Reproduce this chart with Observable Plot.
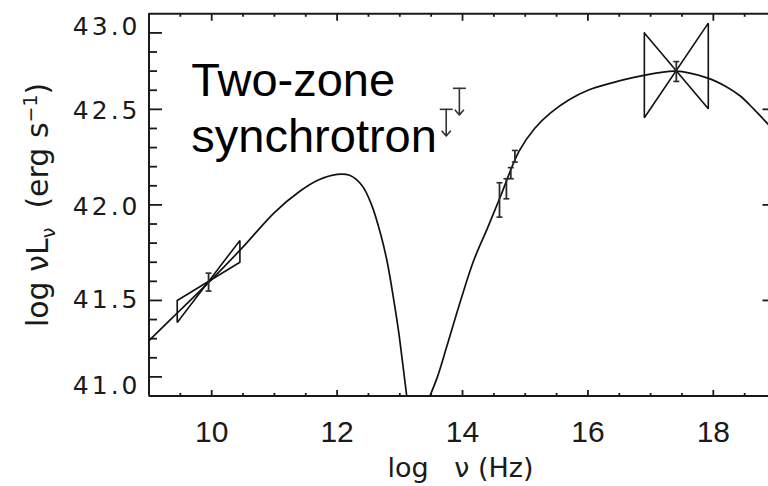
<!DOCTYPE html>
<html>
<head>
<meta charset="utf-8">
<script src="https://cdn.jsdelivr.net/npm/d3@7"></script>
<script src="https://cdn.jsdelivr.net/npm/@observablehq/plot@0.6"></script>
<style>
  html, body { margin: 0; padding: 0; background: #fff; overflow: hidden; }
</style>
</head>
<body>
<div id="chart"></div>
<script>
// ---------- data (log nu [Hz], log nuL_nu [erg/s]) ----------
const xDomain = [9, 18.88];
const yDomain = [41, 43];

// low-energy synchrotron component
const curve1X = [9.0, 9.5, 10.0, 10.5, 11.0, 11.4, 11.7, 12.0, 12.2, 12.4, 12.55, 12.7, 12.8, 12.9, 12.98, 13.05, 13.11];
const curve1Y = [41.29, 41.45, 41.61, 41.78, 41.96, 42.07, 42.13, 42.16, 42.155, 42.10, 42.00, 41.84, 41.70, 41.51, 41.34, 41.16, 41.0];

// high-energy synchrotron component
const curve2X = [13.48, 13.6, 13.75, 13.97, 14.18, 14.4, 14.6, 14.9, 15.15, 15.4, 15.7, 16.0, 16.4, 16.85, 17.4, 17.9, 18.2, 18.43, 18.65, 18.88];
const curve2Y = [41.0, 41.10, 41.26, 41.50, 41.71, 41.88, 42.04, 42.28, 42.40, 42.48, 42.55, 42.60, 42.64, 42.675, 42.70, 42.665, 42.62, 42.57, 42.50, 42.42];

// radio bowtie (closed outline)
const bowRadioX = [9.45, 10.45, 10.45, 9.45, 9.45];
const bowRadioY = [41.50, 41.70, 41.814, 41.385, 41.50];

// X-ray bowtie (closed outline)
const bowXrayX = [16.9, 17.92, 17.92, 16.9, 16.9];
const bowXrayY = [42.90, 42.503, 42.951, 42.456, 42.90];

// detections with error bars
const errX  = [9.95, 14.59, 14.70, 14.77, 14.835, 17.41];
const errLo = [41.549, 41.936, 42.032, 42.137, 42.224, 42.646];
const errHi = [41.643, 42.116, 42.137, 42.195, 42.285, 42.75];

// upper limits
const ulX = [13.74, 13.95];
const ulY = [42.50, 42.61];
const ulLen = 0.14;

// axis ticks and labels
const xMajorTicks = [10, 12, 14, 16, 18];
const xMinorTicks = [9.5, 10.5, 11, 11.5, 12.5, 13, 13.5, 14.5, 15, 15.5, 16.5, 17, 17.5, 18.5];
const yMajorTicks = [41.1, 41.5, 42.0, 42.5, 42.9];
const yMinorTicks = [41.2, 41.3, 41.4, 41.6, 41.7, 41.8, 41.9, 42.1, 42.2, 42.3, 42.4, 42.6, 42.7, 42.8];
const yRightTicks = [41.5, 42.0, 42.5];
const yLabelPos = [42.93, 42.49, 41.99, 41.5, 41.05];
const yTickLabels = ["43.0", "42.5", "42.0", "41.5", "41.0"];

// texts
const annotText = "Two-zone\nsynchrotron";
const annotX = 9.675;
const annotY = 42.276;
const xTitle = "log\u00A0\u00A0\u00A0\u03BD\u00A0(Hz)";
const yTitleParts = [
  {t: "log \u03BDL"},
  {t: "\u03BD", sub: true},
  {t: "\u00A0\u00A0(erg s"},
  {t: "\u22121", sup: true},
  {t: ")"}
];

// ---------- layout ----------
const W = 768, H = 486, mL = 148.5, mR = 0, mT = 13.3, mB = 90.5;
const [x0, x1] = xDomain, [y0, y1] = yDomain;
const kx = (W - mL - mR) / (x1 - x0);   // px per x unit
const ky = (H - mT - mB) / (y1 - y0);   // px per y unit
const ink = "#1a1a1a";

// ---------- build tables ----------
const curve1 = curve1X.map((x, i) => ({x, y: curve1Y[i]}));
const curve2 = curve2X.map((x, i) => ({x, y: curve2Y[i]}));
const bowRadio = bowRadioX.map((x, i) => ({x, y: bowRadioY[i]}));
const bowXray = bowXrayX.map((x, i) => ({x, y: bowXrayY[i]}));
const errs = errX.map((x, i) => ({x, lo: errLo[i], hi: errHi[i]}));
const uls = ulX.map((x, i) => ({x, y: ulY[i]}));

// inward tick marks as short links from the frame edges
const tickStyle = {stroke: ink, strokeWidth: 1.8};
const bottomTicks = (v, len) => Plot.link(v.map(d => ({a: d, b0: y0, b1: y0 + len / ky})), {x1: "a", x2: "a", y1: "b0", y2: "b1", ...tickStyle});
const topTicks = (v, len) => Plot.link(v.map(d => ({a: d, b0: y1, b1: y1 - len / ky})), {x1: "a", x2: "a", y1: "b0", y2: "b1", ...tickStyle});
const leftTicks = (v, len) => Plot.link(v.map(d => ({a: d, b0: x0, b1: x0 + len / kx})), {y1: "a", y2: "a", x1: "b0", x2: "b1", ...tickStyle});
const rightTicks = (v, len) => Plot.link(v.map(d => ({a: d, b0: x1 - len / kx, b1: x1})), {y1: "a", y2: "a", x1: "b0", x2: "b1", ...tickStyle});
const caps = (data, key, halfPx, style) => Plot.link(data, {x1: d => d.x - halfPx / kx, x2: d => d.x + halfPx / kx, y1: key, y2: key, ...style});

const errStyle = {stroke: "#2a2a2a", strokeWidth: 1.6};
const ulStyle = {stroke: "#333", strokeWidth: 1.6};

const svg = Plot.plot({
  width: W,
  height: H,
  marginLeft: mL,
  marginRight: mR,
  marginTop: mT,
  marginBottom: mB,
  x: {domain: xDomain},
  y: {domain: yDomain},
  style: {fontFamily: "DejaVu Sans", background: "#fff", color: ink, overflow: "visible"},
  marks: [
    // frame (left, top, bottom)
    Plot.ruleX([x0], {stroke: ink, strokeWidth: 2}),
    Plot.ruleY(yDomain, {stroke: ink, strokeWidth: 2}),

    // inward ticks
    bottomTicks(xMajorTicks, 6),
    bottomTicks(xMinorTicks, 3),
    topTicks(xMajorTicks, 7),
    topTicks(xMinorTicks, 3),
    leftTicks(yMajorTicks, 13),
    leftTicks(yMinorTicks, 8),
    rightTicks(yRightTicks, 6),

    // tick labels
    Plot.axisX(xMajorTicks, {anchor: "bottom", tickSize: 0, tickPadding: 25, fontSize: 30, fontFamily: "Liberation Sans", label: null}),
    Plot.axisY(yLabelPos, {anchor: "left", tickSize: 0, tickPadding: 8.5, fontSize: 25, fontFamily: "DejaVu Sans",
      tickFormat: d => yTickLabels[yLabelPos.indexOf(d)], label: null}),

    // model curves
    Plot.line(curve1, {x: "x", y: "y", curve: "catmull-rom", stroke: "#111", strokeWidth: 1.7}),
    Plot.line(curve2, {x: "x", y: "y", curve: "catmull-rom", stroke: "#111", strokeWidth: 1.7}),

    // bowties
    Plot.line(bowRadio, {x: "x", y: "y", stroke: "#111", strokeWidth: 1.6, strokeLinejoin: "miter"}),
    Plot.line(bowXray, {x: "x", y: "y", stroke: "#111", strokeWidth: 1.6, strokeLinejoin: "miter"}),

    // error bars
    Plot.link(errs, {x1: "x", x2: "x", y1: "lo", y2: "hi", stroke: "#2a2a2a", strokeWidth: 1.8}),
    caps(errs, "lo", 3, errStyle),
    caps(errs, "hi", 3, errStyle),

    // upper limits
    caps(uls, "y", 6.5, ulStyle),
    Plot.arrow(uls, {x1: "x", y1: "y", x2: "x", y2: d => d.y - ulLen, headLength: 6, headAngle: 80, ...ulStyle}),

    // annotation
    Plot.text([{x: annotX, y: annotY, t: annotText}], {x: "x", y: "y", text: "t", textAnchor: "start", lineAnchor: "bottom",
      lineHeight: 1.185, fontSize: 47, fontFamily: "Liberation Sans", fill: "#000"}),

    // axis titles
    Plot.text([xTitle], {text: d => d, frameAnchor: "bottom", dy: 81, dx: 1.75, lineAnchor: "bottom", textAnchor: "middle",
      fontSize: 27, fontFamily: "DejaVu Sans", fill: ink}),
    Plot.text(["ytitle"], {text: d => d, frameAnchor: "left", dx: -101.5, rotate: -90, lineAnchor: "bottom", textAnchor: "middle",
      fontSize: 30, fontFamily: "DejaVu Sans", fill: ink})
  ]
});

// widen the y tick labels like the reference
d3.select(svg).selectAll('g[aria-label="y-axis tick label"]').style("letter-spacing", "3px");

// rich y title with subscript / superscript
d3.select(svg).selectAll("text").filter(function() { return this.textContent === "ytitle"; }).each(function() {
  const el = this;
  while (el.firstChild) el.removeChild(el.firstChild);
  let prev = 0;
  for (const p of yTitleParts) {
    const ts = document.createElementNS("http://www.w3.org/2000/svg", "tspan");
    const shift = p.sub ? 7 : p.sup ? -11 : 0;
    ts.setAttribute("dy", shift - prev);
    if (p.sub || p.sup) ts.setAttribute("font-size", 19);
    ts.textContent = p.t;
    el.appendChild(ts);
    prev = shift;
  }
});

document.getElementById("chart").appendChild(svg);
</script>
</body>
</html>
